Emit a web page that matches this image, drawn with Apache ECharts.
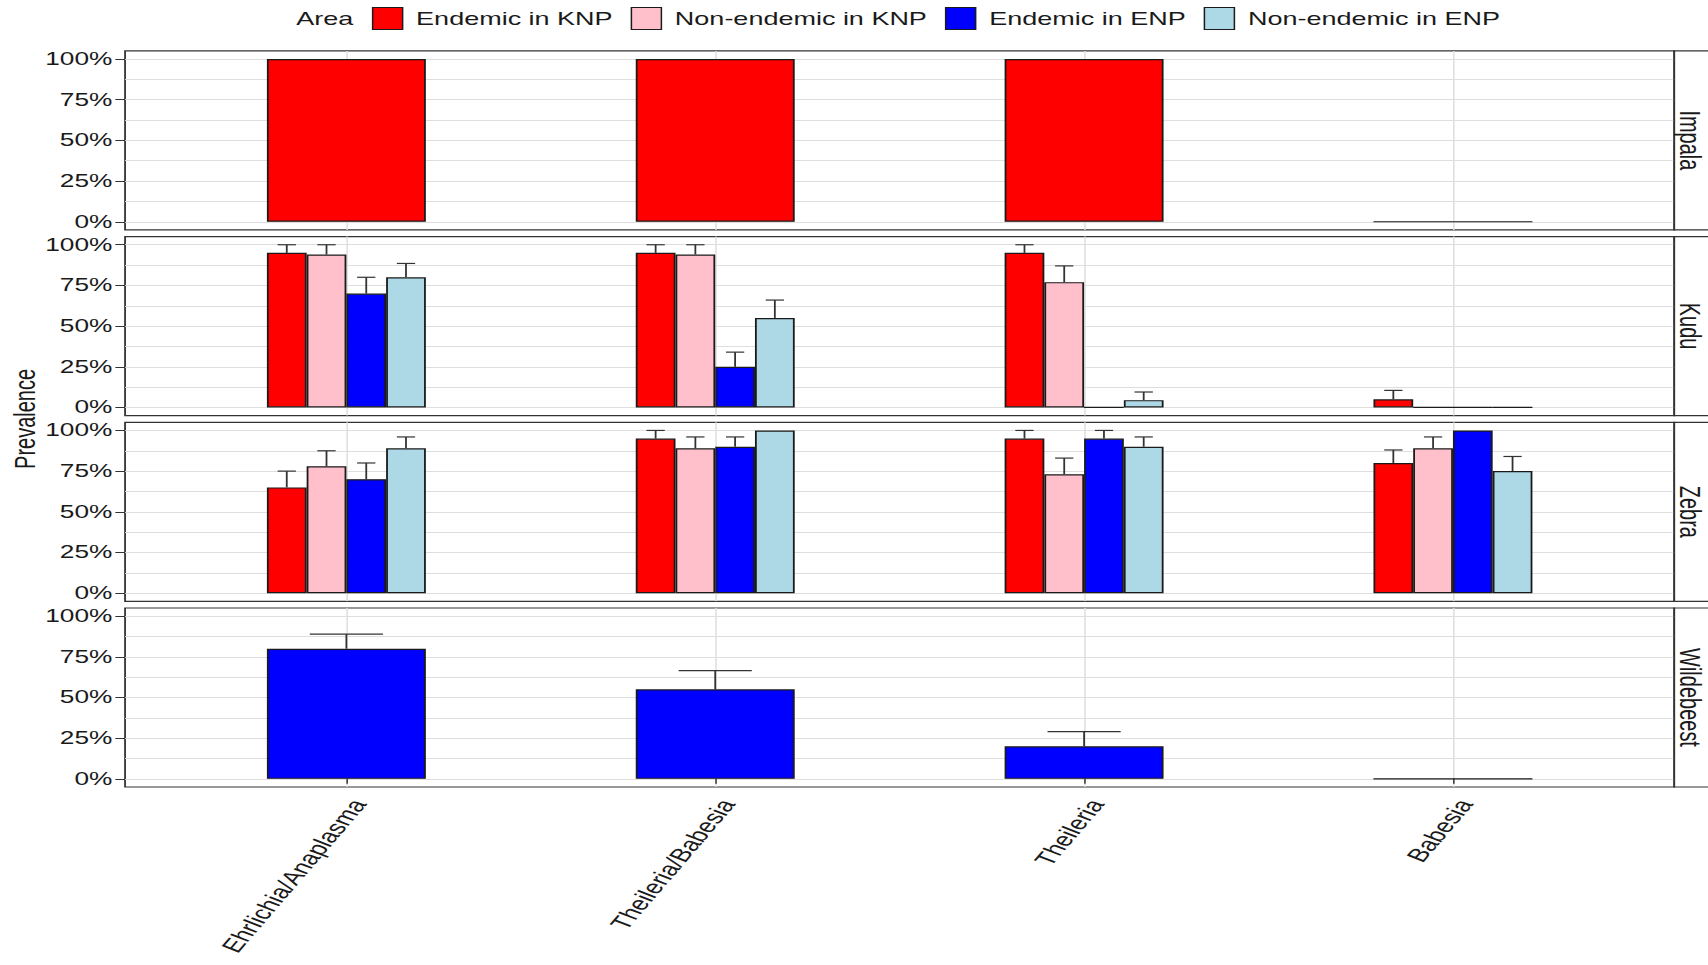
<!DOCTYPE html>
<html>
<head>
<meta charset="utf-8">
<title>Prevalence by host and area</title>
<script src="https://cdn.jsdelivr.net/npm/echarts@6.0.0/dist/echarts.min.js"></script>
<style>
  html, body { margin: 0; padding: 0; background: #ffffff; overflow: hidden; }
  /* the figure is laid out narrow and stretched sideways, like the original export */
  #chart { width: 1139px; height: 965px; transform: scaleX(1.49956); transform-origin: 0 0; }
</style>
</head>
<body>
<div id="chart"></div>
<script>
// ---- data -------------------------------------------------------------
const categories = ['Ehrlichia/Anaplasma', 'Theileria/Babesia', 'Theileria', 'Babesia'];
const hosts = ['Impala', 'Kudu', 'Zebra', 'Wildebeest'];
const areas = ['Endemic in KNP', 'Non-endemic in KNP', 'Endemic in ENP', 'Non-endemic in ENP'];
const areaColors = ['#ff0000', '#ffc0cb', '#0000ff', '#add8e6'];
const yTicks = [0, 0.25, 0.5, 0.75, 1];
const yTickLabels = ['0%', '25%', '50%', '75%', '100%'];

// prevalence (proportion positive) and upper error limit, per category
const impalaEndemicKNP = [1.00, 1.00, 1.00, 0.00];
const impalaEndemicKNPUpper = [null, null, null, null];

const kuduEndemicKNP = [0.95, 0.95, 0.95, 0.05];
const kuduEndemicKNPUpper = [1.00, 1.00, 1.00, 0.105];
const kuduNonEndemicKNP = [0.94, 0.94, 0.77, 0.00];
const kuduNonEndemicKNPUpper = [1.00, 1.00, 0.87, null];
const kuduEndemicENP = [0.70, 0.25, 0.00, 0.00];
const kuduEndemicENPUpper = [0.80, 0.34, null, null];
const kuduNonEndemicENP = [0.80, 0.55, 0.045, 0.00];
const kuduNonEndemicENPUpper = [0.885, 0.66, 0.095, null];

const zebraEndemicKNP = [0.65, 0.95, 0.95, 0.80];
const zebraEndemicKNPUpper = [0.75, 1.00, 1.00, 0.88];
const zebraNonEndemicKNP = [0.78, 0.89, 0.73, 0.89];
const zebraNonEndemicKNPUpper = [0.875, 0.96, 0.83, 0.96];
const zebraEndemicENP = [0.70, 0.90, 0.95, 1.00];
const zebraEndemicENPUpper = [0.80, 0.96, 1.00, null];
const zebraNonEndemicENP = [0.89, 1.00, 0.90, 0.75];
const zebraNonEndemicENPUpper = [0.96, null, 0.96, 0.84];

const wildebeestEndemicENP = [0.80, 0.55, 0.20, 0.00];
const wildebeestEndemicENPUpper = [0.89, 0.665, 0.29, null];

// host -> one entry per area (null when the area has no animals of that host)
const prevalence = {
  Impala: [impalaEndemicKNP, null, null, null],
  Kudu: [kuduEndemicKNP, kuduNonEndemicKNP, kuduEndemicENP, kuduNonEndemicENP],
  Zebra: [zebraEndemicKNP, zebraNonEndemicKNP, zebraEndemicENP, zebraNonEndemicENP],
  Wildebeest: [null, null, wildebeestEndemicENP, null]
};
const upperLimit = {
  Impala: [impalaEndemicKNPUpper, null, null, null],
  Kudu: [kuduEndemicKNPUpper, kuduNonEndemicKNPUpper, kuduEndemicENPUpper, kuduNonEndemicENPUpper],
  Zebra: [zebraEndemicKNPUpper, zebraNonEndemicKNPUpper, zebraEndemicENPUpper, zebraNonEndemicENPUpper],
  Wildebeest: [null, null, wildebeestEndemicENPUpper, null]
};

// ---- layout -----------------------------------------------------------
const FONT = '"Liberation Sans", Arial, Helvetica, sans-serif';
const TEXT = '#1a1a1a';
const GRIDLINE = '#dedede';
const FRAME = '#333333';
const PANEL_LEFT = 83.4;
const PANEL_RIGHT = 22.5;
const PANEL_TOP = 50.9;
const PANEL_STEP = 185.7;
const PANEL_H = 179;
const PAD = PANEL_H * 0.05 / 1.1;      // 5% expansion above 100% and below 0%
const DATA_H = PANEL_H / 1.1;
const GROUP_W = 106;                   // dodged group width in px
const CAP_RATIO = 0.46;                // error-bar cap width relative to bar width
const X_MIN = 0.4, X_MAX = 4.6;
const xTicks = categories.map((c, i) => i + 1);

const grid = [], xAxis = [], yAxis = [], series = [], graphic = [];

hosts.forEach((host, p) => {
  const top = PANEL_TOP + p * PANEL_STEP;
  const frameIdx = 2 * p, dataIdx = 2 * p + 1;
  const isBottom = p === hosts.length - 1;

  // panel frame (with vertical grid lines at the categories)
  grid.push({ left: PANEL_LEFT, right: PANEL_RIGHT, top: top, height: PANEL_H,
              show: true, borderColor: FRAME, borderWidth: 1.2, backgroundColor: 'transparent' });
  // data area: 0%..100%
  grid.push({ left: PANEL_LEFT, right: PANEL_RIGHT, top: top + PAD, height: DATA_H, show: false });

  xAxis.push({
    type: 'value', gridIndex: frameIdx, min: X_MIN, max: X_MAX, minInterval: 1, maxInterval: 1,
    axisLine: { show: false },
    axisTick: { show: isBottom, length: 5, customValues: xTicks, lineStyle: { color: FRAME, width: 1 } },
    axisLabel: {
      show: isBottom, customValues: xTicks, rotate: 60, margin: 9,
      align: 'right', verticalAlign: 'top',
      fontSize: 19, fontFamily: FONT, color: TEXT,
      formatter: v => (Math.abs(v - Math.round(v)) < 1e-9 && categories[Math.round(v) - 1]) || ''
    },
    splitLine: { show: true, lineStyle: { color: GRIDLINE, width: 1 } }
  });
  yAxis.push({ type: 'value', gridIndex: frameIdx, min: -0.05, max: 1.05, show: false });

  xAxis.push({ type: 'value', gridIndex: dataIdx, min: X_MIN, max: X_MAX, show: false });
  yAxis.push({
    type: 'value', gridIndex: dataIdx, min: yTicks[0], max: yTicks[yTicks.length - 1], interval: 0.25,
    axisLine: { show: false },
    axisTick: { show: true, length: 6.5, lineStyle: { color: FRAME, width: 1 } },
    axisLabel: {
      margin: 8.5, fontSize: 17.5, fontFamily: FONT, color: TEXT,
      formatter: v => yTickLabels[yTicks.findIndex(t => Math.abs(t - v) < 1e-9)] || ''
    },
    splitLine: { show: true, lineStyle: { color: GRIDLINE, width: 1 } },
    minorTick: { show: false, splitNumber: 2 },
    minorSplitLine: { show: true, lineStyle: { color: GRIDLINE, width: 1 } }
  });

  const present = areas.map((a, i) => i).filter(i => prevalence[host][i]);
  const n = present.length;
  const barW = GROUP_W / n;

  present.forEach(a => {
    series.push({
      type: 'bar', name: areas[a], xAxisIndex: dataIdx, yAxisIndex: dataIdx,
      barWidth: barW, barGap: '0%',
      itemStyle: { color: areaColors[a], borderColor: '#1a1a1a', borderWidth: 1.2 },
      emphasis: { disabled: true },
      data: prevalence[host][a].map((v, k) => [k + 1, v])
    });
  });

  // upper error bars
  const errData = [];
  present.forEach((a, slot) => {
    const up = upperLimit[host][a];
    prevalence[host][a].forEach((v, k) => {
      if (up && up[k] != null && up[k] > v) errData.push([k + 1, v, up[k], slot]);
    });
  });
  series.push({
    type: 'custom', name: 'error-' + host, xAxisIndex: dataIdx, yAxisIndex: dataIdx, z: 3,
    encode: { x: 0, y: [1, 2] }, silent: true,
    data: errData,
    renderItem: (params, api) => {
      const x = api.value(0), v = api.value(1), u = api.value(2), slot = api.value(3);
      const base = api.coord([x, v]);
      const tip = api.coord([x, u]);
      const cx = base[0] + (slot - (n - 1) / 2) * barW;
      const half = barW * CAP_RATIO / 2;
      const style = { stroke: '#333333', lineWidth: 1.2 };
      return { type: 'group', children: [
        { type: 'line', shape: { x1: cx, y1: base[1], x2: cx, y2: tip[1] }, style: style },
        { type: 'line', shape: { x1: cx - half, y1: tip[1], x2: cx + half, y2: tip[1] }, style: style }
      ] };
    }
  });

  // facet strip on the right
  graphic.push({ type: 'rect', z: 5, shape: { x: 1139 - PANEL_RIGHT, y: top, width: 40, height: PANEL_H },
                 style: { fill: '#ffffff', stroke: FRAME, lineWidth: 1.2 } });
  graphic.push({ type: 'text', z: 6, x: 1127.4, y: top + PANEL_H / 2, rotation: -Math.PI / 2,
                 style: { text: host, align: 'center', verticalAlign: 'middle',
                          font: '20px ' + FONT, fill: TEXT } });
});

graphic.push({ type: 'text', x: 197.5, y: 18.3,
               style: { text: 'Area', verticalAlign: 'middle', font: '18px ' + FONT, fill: TEXT } });
graphic.push({ type: 'text', x: 16.3, y: PANEL_TOP + (3 * PANEL_STEP + PANEL_H) / 2, rotation: Math.PI / 2,
               style: { text: 'Prevalence', align: 'center', verticalAlign: 'middle',
                        font: '20px ' + FONT, fill: TEXT } });

const chart = echarts.init(document.getElementById('chart'), null, { renderer: 'svg' });
chart.setOption({
  animation: false,
  backgroundColor: '#ffffff',
  legend: {
    data: areas, left: 248, top: 7, padding: 0, selectedMode: false,
    icon: 'rect', itemWidth: 20, itemHeight: 22, itemGap: 12,
    itemStyle: { borderColor: '#1a1a1a', borderWidth: 1 },
    textStyle: { fontSize: 18, fontFamily: FONT, color: TEXT, padding: [0, 0, 0, 4] }
  },
  grid: grid,
  xAxis: xAxis,
  yAxis: yAxis,
  series: series,
  graphic: graphic
});
</script>
</body>
</html>
